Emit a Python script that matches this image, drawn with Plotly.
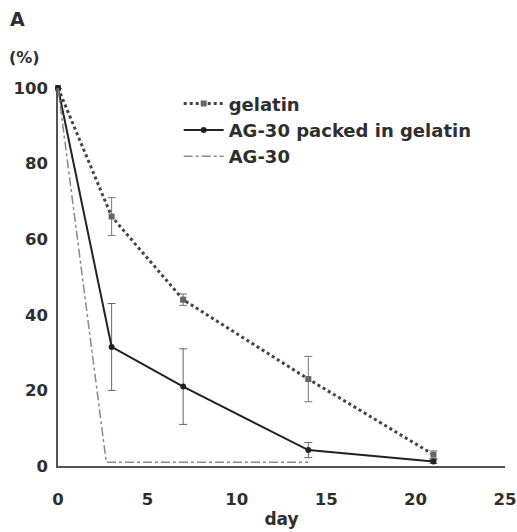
import plotly.graph_objects as go

days = [0, 3, 7, 14, 21]
gelatin = [100, 66, 44, 23, 3]
gelatin_err = [0, 5, 1.5, 6, 1]
packed = [100, 31.5, 21, 4.2, 1.2]
packed_err = [0, 11.5, 10, 2, 0.5]
ag30_days = [0, 2.7, 7, 14]
ag30 = [100, 1, 1, 1]

x_ticks = [0, 5, 10, 15, 20, 25]
y_ticks = [0, 20, 40, 60, 80, 100]

FONT = "DejaVu Sans, Arial, sans-serif"
TXT = "#2e2e2e"
BOLD = dict(family=FONT, color=TXT, weight="bold")

fig = go.Figure()
fig.add_trace(go.Scatter(
    x=days, y=gelatin, name="gelatin", mode="lines+markers",
    line=dict(color="#444444", width=3, dash="dot"),
    marker=dict(symbol="square", size=6, color="#666666"),
    error_y=dict(type="data", array=gelatin_err, color="#777777", thickness=1, width=4),
))
fig.add_trace(go.Scatter(
    x=days, y=packed, name="AG-30 packed in gelatin", mode="lines+markers",
    line=dict(color="#222222", width=2),
    marker=dict(symbol="circle", size=6, color="#222222"),
    error_y=dict(type="data", array=packed_err, color="#666666", thickness=1, width=4),
))
fig.add_trace(go.Scatter(
    x=ag30_days, y=ag30, name="AG-30", mode="lines",
    line=dict(color="#8a8a8a", width=1.5, dash="dashdot"),
))

fig.update_layout(
    width=517, height=532,
    margin=dict(l=58, r=12, t=88, b=66),
    paper_bgcolor="white", plot_bgcolor="white",
    font=dict(family=FONT, size=15, color=TXT),
    showlegend=True,
    legend=dict(x=0.27, y=1.007, xanchor="left", yanchor="top",
                bgcolor="rgba(0,0,0,0)", font=dict(size=18, **BOLD),
                itemwidth=40, tracegroupgap=0),
    xaxis=dict(range=[0, 25], tickvals=x_ticks, showgrid=False, zeroline=False,
               showline=True, linecolor="#555555", linewidth=1.5, automargin=False,
               ticks="", ticklabelstandoff=17, tickfont=dict(size=16.5, **BOLD),
               title=dict(text="day", standoff=6, font=dict(size=17, **BOLD))),
    yaxis=dict(range=[0, 100], tickvals=y_ticks, showgrid=False, zeroline=False,
               showline=True, linecolor="#555555", linewidth=1.5, automargin=False,
               ticks="", ticklabelstandoff=5, tickfont=dict(size=16.5, **BOLD)),
    annotations=[
        dict(text="A", xref="paper", yref="paper", x=-0.112, y=1.183,
             xanchor="left", yanchor="middle", showarrow=False,
             font=dict(size=19, **BOLD)),
        dict(text="(%)", xref="paper", yref="paper", x=-0.115, y=1.082,
             xanchor="left", yanchor="middle", showarrow=False,
             font=dict(size=16, **BOLD)),
    ],
)
fig.update_traces(cliponaxis=False)

fig.write_html("out.html")
